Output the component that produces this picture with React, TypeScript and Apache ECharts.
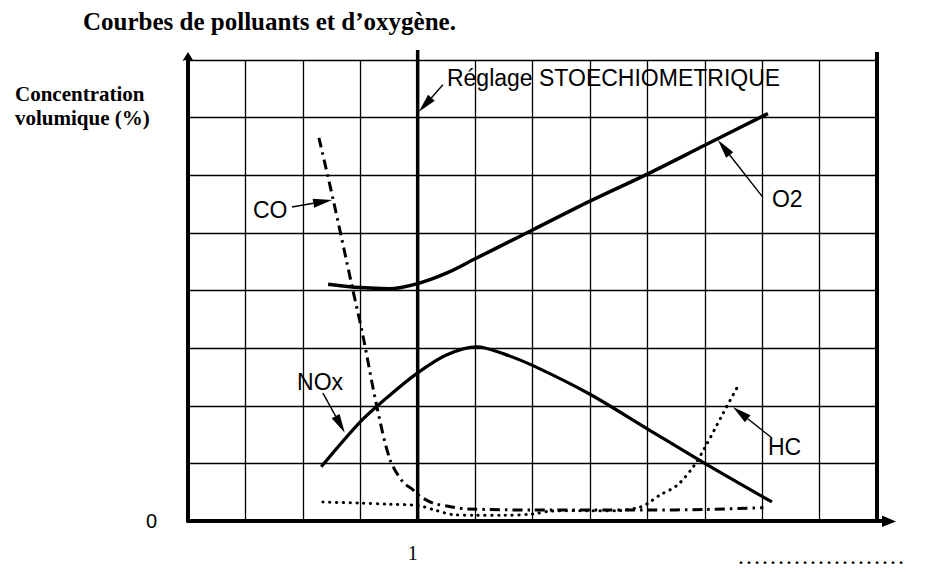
import React, { useEffect, useRef } from "react";
import * as echarts from "echarts";

const TITLE = "Courbes de polluants et d’oxygène.";
const Y_NAME = ["Concentration", "volumique (%)"];
const X_TICK_LABELS: Record<number, string> = { 4: "1" };
const Y_TICK_LABELS: Record<number, string> = { 0: "0" };
const STOICH_X = 4;
const X_MAX = 12;
const Y_MAX = 8;
const FOOT_DOTS = "…………………";

const o2: [number, number][] = [
  [2.44, 4.11], [3.0, 4.05], [3.5, 4.03], [4.0, 4.12], [4.5, 4.3], [5.0, 4.55],
  [5.5, 4.8], [6.0, 5.05], [7.0, 5.55], [8.0, 6.02], [9.0, 6.52], [10.1, 7.07],
];
const nox: [number, number][] = [
  [2.32, 0.94], [3.0, 1.72], [3.5, 2.17], [4.0, 2.57], [4.5, 2.88], [5.03, 3.02],
  [5.5, 2.9], [6.0, 2.7], [7.0, 2.2], [8.0, 1.6], [9.0, 1.0], [10.17, 0.33],
];
const co: [number, number][] = [
  [2.28, 6.65], [2.53, 5.57], [2.86, 4.06], [3.05, 3.2], [3.29, 1.98], [3.52, 1.06],
  [3.74, 0.68], [3.92, 0.54], [4.04, 0.43], [4.27, 0.31], [4.62, 0.24], [4.86, 0.21],
  [6.0, 0.19], [7.0, 0.19], [8.0, 0.19], [9.0, 0.2], [10.02, 0.23],
];
const hc: [number, number][] = [
  [2.35, 0.33], [3.0, 0.31], [3.5, 0.29], [4.0, 0.27], [4.3, 0.19], [4.62, 0.11],
  [5.0, 0.1], [5.5, 0.1], [6.0, 0.12], [6.3, 0.17], [7.0, 0.18], [7.5, 0.18],
  [7.87, 0.24], [8.0, 0.3], [8.22, 0.45], [8.52, 0.62], [8.8, 0.94], [9.0, 1.27],
  [9.32, 1.87], [9.56, 2.31],
];

type Ann = { text: string; at: [number, number]; tail: [number, number]; head: [number, number] };
const annotations: Ann[] = [
  { text: "Réglage STOECHIOMETRIQUE", at: [4.51, 7.69], tail: [4.44, 7.57], head: [4.02, 7.1] },
  { text: "O2", at: [10.17, 5.59], tail: [10.01, 5.62], head: [9.23, 6.61] },
  { text: "CO", at: [1.13, 5.4], tail: [1.81, 5.45], head: [2.51, 5.57] },
  { text: "NOx", at: [1.9, 2.41], tail: [2.35, 2.22], head: [2.73, 1.53] },
  { text: "HC", at: [10.1, 1.28], tail: [10.17, 1.44], head: [9.49, 1.98] },
];

const SANS = "Liberation Sans, Arial, sans-serif";
const SERIF = "Liberation Serif, Times New Roman, serif";

export default function App() {
  const ref = useRef<HTMLDivElement>(null);
  useEffect(() => {
    if (!ref.current) return;
    const chart = echarts.init(ref.current, null, { renderer: "svg" });
    const lineSeries = (name: string, data: [number, number][], lineStyle: any) => ({
      name,
      type: "line",
      data,
      showSymbol: false,
      symbol: "none",
      smooth: 0.3,
      lineStyle: { color: "#000", ...lineStyle },
      z: 5,
    });
    chart.setOption({
      animation: false,
      backgroundColor: "#fff",
      grid: { left: 188, right: 53, top: 60, bottom: 51, containLabel: false },
      xAxis: {
        type: "value",
        min: 0,
        max: X_MAX,
        interval: 1,
        axisLine: { show: true, onZero: false, lineStyle: { color: "#000", width: 4 } },
        axisTick: { show: false },
        splitLine: { show: true, lineStyle: { color: "#000", width: 1.3 } },
        axisLabel: {
          show: true,
          formatter: (v: number) => X_TICK_LABELS[v] ?? "",
          color: "#000",
          fontFamily: SERIF,
          fontSize: 20,
          margin: 22,
          padding: [0, 10, 0, 0],
        },
      },
      yAxis: {
        type: "value",
        min: 0,
        max: Y_MAX,
        interval: 1,
        axisLine: { show: true, onZero: false, lineStyle: { color: "#000", width: 4 } },
        axisTick: { show: false },
        splitLine: { show: true, lineStyle: { color: "#000", width: 1.3 } },
        axisLabel: {
          show: true,
          formatter: (v: number) => Y_TICK_LABELS[v] ?? "",
          color: "#000",
          fontFamily: SANS,
          fontSize: 20,
          margin: 31,
        },
      },
      series: [
        lineSeries("O2", o2, { width: 3.5, type: "solid" }),
        lineSeries("NOx", nox, { width: 3.2, type: "solid" }),
        lineSeries("CO", co, { width: 3, type: [10, 5, 2.5, 5], cap: "butt" }),
        lineSeries("HC", hc, { width: 3, type: [0.3, 6.5], cap: "round" }),
      ],
    });

    const px = (p: [number, number]) => chart.convertToPixel({ gridIndex: 0 }, p) as number[];
    const g: any[] = [];
    const [x0, y0] = px([0, 0]);
    const [xEnd, yTop] = px([X_MAX, Y_MAX]);
    g.push({
      type: "polygon",
      shape: { points: [[x0 - 2, yTop], [x0 - 5.5, yTop + 1], [x0, yTop - 8], [x0 + 5.5, yTop + 1], [x0 + 2, yTop]] },
      style: { fill: "#000" },
      z: 10,
    });
    g.push({
      type: "polygon",
      shape: { points: [[xEnd, y0 - 2], [xEnd + 5, y0 - 2], [xEnd + 5, y0 - 5.5], [xEnd + 19, y0 + 0.5], [xEnd + 5, y0 + 6], [xEnd + 5, y0 + 2], [xEnd, y0 + 2]] },
      style: { fill: "#000" },
      z: 10,
    });
    const [xs] = px([STOICH_X, 0]);
    g.push({ type: "line", shape: { x1: xs, y1: y0, x2: xs, y2: yTop - 10 }, style: { stroke: "#000", lineWidth: 3.5 }, z: 10 });
    g.push({ type: "line", shape: { x1: xEnd, y1: y0, x2: xEnd, y2: yTop - 8 }, style: { stroke: "#000", lineWidth: 4 }, z: 10 });

    annotations.forEach((a) => {
      const [tx, ty] = px(a.at);
      g.push({
        type: "text",
        x: tx,
        y: ty,
        style: { text: a.text, fill: "#000", font: `23px ${SANS}`, textAlign: "left", textVerticalAlign: "middle" },
        z: 12,
      });
      const T = px(a.tail);
      const H = px(a.head);
      const dx = H[0] - T[0];
      const dy = H[1] - T[1];
      const len = Math.hypot(dx, dy);
      const ux = dx / len;
      const uy = dy / len;
      const L = 19;
      const w = 4.5;
      const bx = H[0] - ux * L;
      const by = H[1] - uy * L;
      g.push({ type: "line", shape: { x1: T[0], y1: T[1], x2: bx, y2: by }, style: { stroke: "#000", lineWidth: 1.4 }, z: 12 });
      g.push({
        type: "polygon",
        shape: { points: [[H[0], H[1]], [bx - uy * w, by + ux * w], [bx + uy * w, by - ux * w]] },
        style: { fill: "#000" },
        z: 12,
      });
    });

    g.push({ type: "text", x: 83, y: 21, style: { text: TITLE, fill: "#000", font: `bold 25px ${SERIF}`, textVerticalAlign: "middle" }, z: 12 });
    g.push({ type: "text", x: 15, y: 94, style: { text: Y_NAME[0], fill: "#000", font: `bold 21px ${SERIF}`, textVerticalAlign: "middle" }, z: 12 });
    g.push({ type: "text", x: 15, y: 118, style: { text: Y_NAME[1], fill: "#000", font: `bold 21px ${SERIF}`, textVerticalAlign: "middle" }, z: 12 });
    g.push({ type: "text", x: 737, y: 556, style: { text: FOOT_DOTS, fill: "#000", font: `24px ${SERIF}`, textVerticalAlign: "middle" }, z: 12 });

    chart.setOption({ graphic: g });
    return () => chart.dispose();
  }, []);
  return <div ref={ref} style={{ position: "fixed", left: 0, top: 0, width: 930, height: 572 }} />;
}
